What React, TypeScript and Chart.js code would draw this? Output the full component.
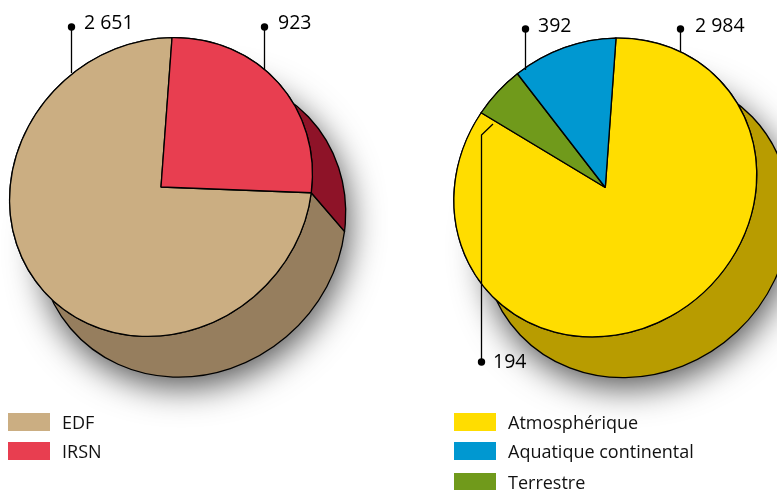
import React, { useEffect, useRef } from "react";
import { Chart, registerables } from "chart.js";

Chart.register(...registerables);

// ---- data ----
const leftCategories = ["EDF", "IRSN"];
const leftValues = [2651, 923];
const leftLabels = ["2 651", "923"];
const leftColors = ["#CBAE82", "#E83E50"];
const leftSideColors = ["#967E5E", "#8E1328"];

// clockwise drawing order of the right pie
const rightCategories = ["Atmosphérique", "Terrestre", "Aquatique continental"];
const rightValues = [2984, 194, 392];
const rightLabels = ["2 984", "194", "392"];
const rightColors = ["#FFDD00", "#709A1B", "#0098D1"];
const rightSideColors = ["#B89C00", "#B89C00", "#B89C00"];

// legends, in the reading order of the picture
const leftLegend = ["EDF", "IRSN"];
const rightLegend = ["Atmosphérique", "Aquatique continental", "Terrestre"];

const FONT = '"Open Sans", "Noto Sans", sans-serif';

// the disc is seen in perspective: a slightly sheared circle, pushed back along (dx, dy)
const FACE = { a: 151.3, b: -6.5, d: 149.3 };
const DEPTH = { dx: 31, dy: 38.5, grow: 1.015 };

type Callout = { text: string; pts: number[][]; tx: number; ty: number };

function applyFace(ctx: any, x: number, y: number, r: number) {
  const a = FACE.a / r;
  const b = FACE.b / r;
  const d = FACE.d / r;
  ctx.transform(a, b, b, d, x - a * x - b * y, y - b * x - d * y);
}

function makePlugin(sideColors: string[], callouts: Callout[]) {
  return {
    id: "cylinder",
    beforeDatasetsDraw(chart: any) {
      const ctx = chart.ctx;
      const arcs = chart.getDatasetMeta(0).data;
      const f = arcs[0];
      const r = f.outerRadius;
      const R = r * DEPTH.grow;
      const a = FACE.a / r;
      const b = FACE.b / r;
      const d = FACE.d / r;
      const det = a * d - b * b;
      const ox = (d * DEPTH.dx - b * DEPTH.dy) / det;
      const oy = (a * DEPTH.dy - b * DEPTH.dx) / det;
      ctx.save();
      applyFace(ctx, f.x, f.y, r);
      ctx.save();
      ctx.shadowColor = "rgba(0,0,0,0.68)";
      ctx.shadowBlur = 34;
      ctx.shadowOffsetX = 3;
      ctx.shadowOffsetY = 10;
      ctx.fillStyle = sideColors[0];
      ctx.beginPath();
      ctx.arc(f.x + ox, f.y + oy, R, 0, Math.PI * 2);
      ctx.fill();
      ctx.restore();
      ctx.lineWidth = 1.3;
      ctx.strokeStyle = "#000";
      arcs.forEach((s: any, i: number) => {
        ctx.beginPath();
        ctx.arc(s.x + ox, s.y + oy, R, s.startAngle, s.endAngle);
        ctx.lineTo(s.x + r * Math.cos(s.endAngle), s.y + r * Math.sin(s.endAngle));
        ctx.arc(s.x, s.y, r, s.endAngle, s.startAngle, true);
        ctx.closePath();
        ctx.fillStyle = sideColors[i];
        ctx.fill();
        ctx.stroke();
      });
      ctx.restore();
      // the face itself is drawn by Chart.js under the same transform
      ctx.save();
      applyFace(ctx, f.x, f.y, r);
    },
    afterDatasetsDraw(chart: any) {
      const ctx = chart.ctx;
      ctx.restore();
      ctx.save();
      ctx.strokeStyle = "#000";
      ctx.fillStyle = "#000";
      ctx.lineWidth = 1.3;
      ctx.font = `19.5px ${FONT}`;
      ctx.textBaseline = "alphabetic";
      callouts.forEach((c) => {
        ctx.beginPath();
        c.pts.forEach((p, i) => (i ? ctx.lineTo(p[0], p[1]) : ctx.moveTo(p[0], p[1])));
        ctx.stroke();
        ctx.beginPath();
        ctx.arc(c.pts[0][0], c.pts[0][1], 3.7, 0, Math.PI * 2);
        ctx.fill();
        ctx.fillText(c.text, c.tx, c.ty);
      });
      ctx.restore();
    },
  };
}

function Pie(props: {
  left: number;
  width: number;
  padding: any;
  rotation: number;
  labels: string[];
  values: number[];
  colors: string[];
  sideColors: string[];
  callouts: Callout[];
}) {
  const ref = useRef<HTMLCanvasElement>(null);
  useEffect(() => {
    const chart = new Chart(ref.current as HTMLCanvasElement, {
      type: "pie",
      data: {
        labels: props.labels,
        datasets: [
          {
            data: props.values,
            backgroundColor: props.colors,
            borderColor: "#000",
            borderWidth: 1.3,
            clip: false,
          },
        ],
      },
      options: {
        responsive: false,
        animation: false,
        events: [],
        rotation: props.rotation,
        layout: { padding: props.padding },
        plugins: { legend: { display: false }, tooltip: { enabled: false } },
      },
      plugins: [makePlugin(props.sideColors, props.callouts)],
    } as any);
    return () => chart.destroy();
  }, []);
  return (
    <canvas
      ref={ref}
      width={props.width}
      height={490}
      style={{ position: "absolute", left: props.left, top: 0, width: props.width, height: 490 }}
    />
  );
}

function LegendRow(props: { x: number; y: number; color: string; text: string; textX: number }) {
  return (
    <>
      <div style={{ position: "absolute", left: props.x, top: props.y, width: 42, height: 18, background: props.color }} />
      <div
        style={{
          position: "absolute",
          left: props.textX,
          top: props.y - 3,
          height: 24,
          lineHeight: "24px",
          font: `18px ${FONT}`,
          color: "#111",
          whiteSpace: "nowrap",
        }}
      >
        {props.text}
      </div>
    </>
  );
}

const leftCallouts: Callout[] = [
  { text: leftLabels[0], pts: [[71.5, 27], [71.5, 73]], tx: 84, ty: 29 },
  { text: leftLabels[1], pts: [[264.5, 27], [264.5, 70]], tx: 278, ty: 29 },
];
const rightCallouts: Callout[] = [
  { text: rightLabels[2], pts: [[137.5, 29], [137.5, 70]], tx: 150, ty: 32 },
  { text: rightLabels[0], pts: [[292.5, 29], [292.5, 52]], tx: 307, ty: 32 },
  { text: rightLabels[1], pts: [[93.5, 362], [93.5, 135], [105, 124]], tx: 105, ty: 368 },
];

export default function App() {
  return (
    <div style={{ position: "fixed", left: 0, top: 0, width: 777, height: 490, overflow: "hidden", background: "#fff" }}>
      <Pie
        left={0}
        width={388}
        padding={{ left: 11, right: 77, top: 37, bottom: 153 }}
        rotation={94.7}
        labels={leftCategories}
        values={leftValues}
        colors={leftColors}
        sideColors={leftSideColors}
        callouts={leftCallouts}
      />
      <Pie
        left={388}
        width={389}
        padding={{ left: 67.3, right: 21.7, top: 37.5, bottom: 152.5 }}
        rotation={1.6}
        labels={rightCategories}
        values={rightValues}
        colors={rightColors}
        sideColors={rightSideColors}
        callouts={rightCallouts}
      />
      <LegendRow x={8} y={413} color={leftColors[0]} text={leftLegend[0]} textX={62} />
      <LegendRow x={8} y={442} color={leftColors[1]} text={leftLegend[1]} textX={62} />
      <LegendRow x={454} y={413} color={rightColors[0]} text={rightLegend[0]} textX={508} />
      <LegendRow x={454} y={442} color={rightColors[2]} text={rightLegend[1]} textX={508} />
      <LegendRow x={454} y={473} color={rightColors[1]} text={rightLegend[2]} textX={508} />
    </div>
  );
}
